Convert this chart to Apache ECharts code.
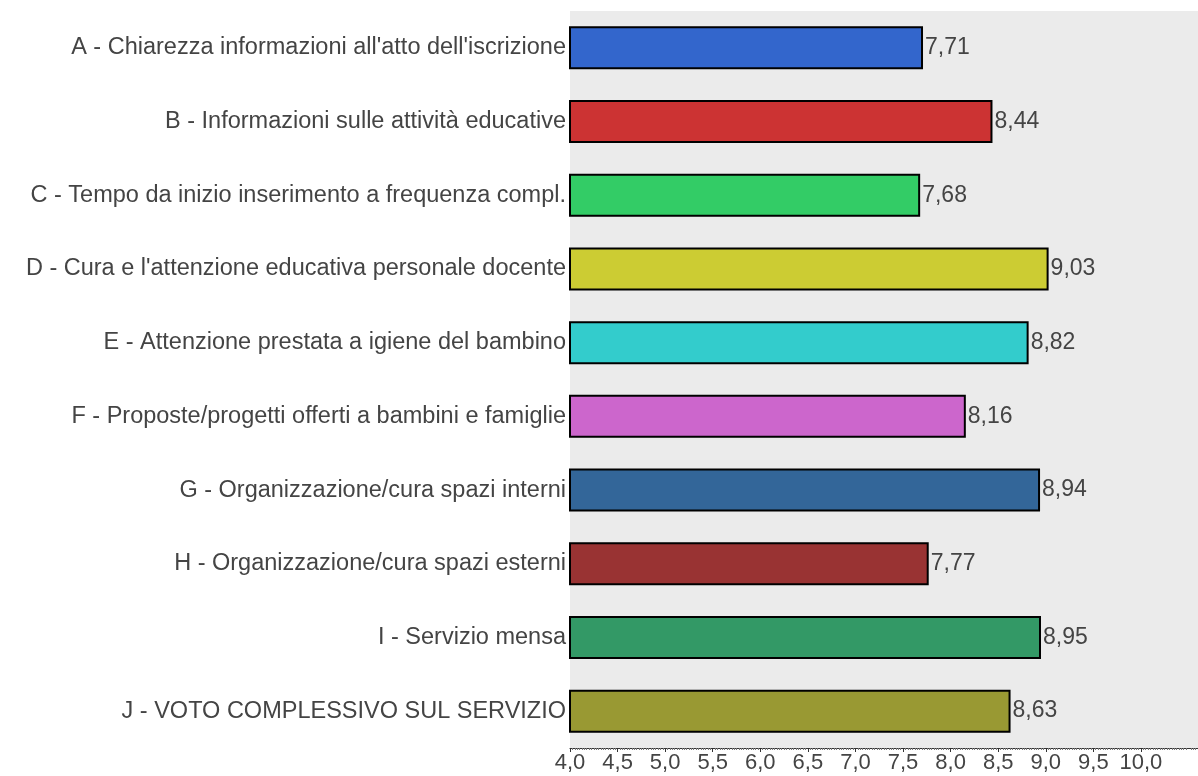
<!DOCTYPE html>
<html>
<head>
<meta charset="utf-8">
<script src="https://cdn.jsdelivr.net/npm/echarts@6/dist/echarts.min.js"></script>
<style>
	html, body { margin: 0; padding: 0; background: #fff; }
	#chart { width: 1198px; height: 776px; }
</style>
</head>
<body>
<div id="chart"></div>
<script>
// categorie e valori
var categories = [
	"A - Chiarezza informazioni all'atto dell'iscrizione",
	"B - Informazioni sulle attività educative",
	"C - Tempo da inizio inserimento a frequenza compl.",
	"D - Cura e l'attenzione educativa personale docente",
	"E - Attenzione prestata a igiene del bambino",
	"F - Proposte/progetti offerti a bambini e famiglie",
	"G - Organizzazione/cura spazi interni",
	"H - Organizzazione/cura spazi esterni",
	"I - Servizio mensa",
	"J - VOTO COMPLESSIVO SUL SERVIZIO"
];
var values = [7.71, 8.44, 7.68, 9.03, 8.82, 8.16, 8.94, 7.77, 8.95, 8.63];
var colors = ['#3366cc', '#cc3333', '#33cc66', '#cccc33', '#33cccc', '#cc66cc', '#336699', '#993333', '#339966', '#999933'];
var tickValues = [4, 4.5, 5, 5.5, 6, 6.5, 7, 7.5, 8, 8.5, 9, 9.5, 10];

var myChart = echarts.init(document.getElementById('chart'));

var data = [];
for (var i = 0; i < values.length; i++) {
	data.push({
		value: values[i],
		itemStyle: { color: colors[i] }
	});
}

var option = {
	animation: false,
	textStyle: { fontFamily: 'Liberation Sans, Arial, sans-serif' },
	grid: {
		left: 570,
		right: 0,
		top: 11,
		bottom: 28,
		show: true,
		backgroundColor: '#ebebeb',
		borderWidth: 0
	},
	xAxis: {
		type: 'value',
		min: 4,
		max: 10.6,
		interval: 0.5,
		splitLine: { show: false },
		axisLine: { show: true, lineStyle: { color: '#333', width: 1 } },
		axisTick: { show: true, length: 4, customValues: tickValues, lineStyle: { color: '#333' } },
		minorTick: { show: true, splitNumber: 20, length: 2, lineStyle: { color: '#777' } },
		axisLabel: {
			customValues: tickValues,
			color: '#444',
			fontSize: 22,
			margin: 4,
			formatter: function (v) {
				return v.toFixed(1).replace('.', ',');
			}
		}
	},
	yAxis: {
		type: 'category',
		data: categories,
		inverse: true,
		axisLine: { show: false },
		axisTick: { show: false },
		axisLabel: { color: '#444', fontSize: 23.5, margin: 4 }
	},
	series: [{
		type: 'bar',
		data: data,
		barWidth: 43,
		itemStyle: { borderColor: '#000', borderWidth: 2 },
		label: {
			show: true,
			position: 'right',
			distance: 2,
			color: '#444',
			fontSize: 23,
			formatter: function (p) {
				return p.value.toFixed(2).replace('.', ',');
			}
		}
	}]
};

myChart.setOption(option);
</script>
</body>
</html>
